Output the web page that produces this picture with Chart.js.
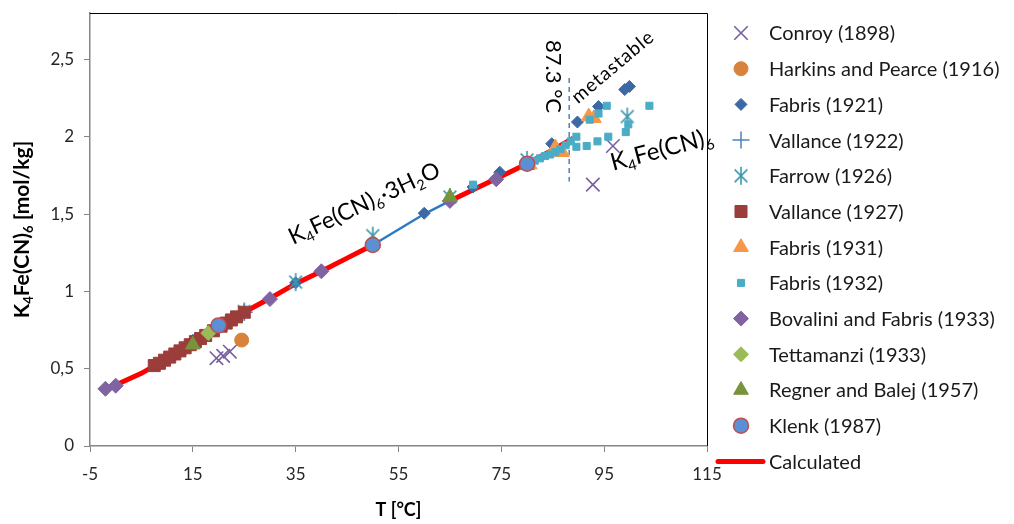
<!DOCTYPE html>
<html><head><meta charset="utf-8">
<script src="https://cdn.jsdelivr.net/npm/chart.js@4.4.0/dist/chart.umd.min.js"></script>
<style>html,body{margin:0;padding:0;background:#fff;}canvas{display:block;}</style>
</head><body>
<canvas id="c" width="1014" height="524"></canvas>
<script>
const FONT = 'Lato, "Open Sans", sans-serif';

// ---------- data ----------
const xTicks = [-5, 15, 35, 55, 75, 95, 115];
const yTicks = [0, 0.5, 1, 1.5, 2, 2.5];

const conroyT = [19.6, 20.9, 22.2, 92.8, 96.7];
const conroyM = [0.568, 0.583, 0.61, 1.69, 1.94];
const harkinsT = [24.5];
const harkinsM = [0.685];
const fabris1921T = [25, 35, 60, 69.5, 74.7, 84.8, 89.8, 93.9, 99, 99.9];
const fabris1921M = [0.86, 1.055, 1.505, 1.675, 1.77, 1.955, 2.095, 2.195, 2.305, 2.325];
const vallance1922T = [15, 20, 25];
const vallance1922M = [0.67, 0.77, 0.865];
const farrowT = [25, 35, 50, 65, 80, 99.5];
const farrowM = [0.87, 1.06, 1.36, 1.61, 1.85, 2.13];
const vallance1927T = [7.5, 8.5, 9.5, 10.5, 11.5, 12.5, 13.5, 14.5, 15.5, 16.5, 17.5, 19, 20.5, 21.5, 22.5, 23.5, 25];
const vallance1927M = [0.52, 0.535, 0.555, 0.575, 0.595, 0.615, 0.635, 0.655, 0.675, 0.695, 0.715, 0.745, 0.775, 0.795, 0.815, 0.835, 0.865];
const fabris1931T = [80.5, 85.5, 86.8, 92, 93];
const fabris1931M = [1.82, 1.93, 1.9, 2.13, 2.12];
const fabris1932T = [65, 69.5, 79.5, 81.5, 82.5, 83.5, 84.5, 85.5, 86.5, 87.5, 88.5, 89.6, 89.6, 91.6, 93.7, 95.8, 99.2, 99.7, 92.2, 93.9, 95.5, 103.8];
const fabris1932M = [1.60, 1.69, 1.82, 1.845, 1.86, 1.875, 1.885, 1.90, 1.92, 1.945, 1.97, 2.0, 1.935, 1.94, 1.97, 2.0, 2.03, 2.08, 2.11, 2.15, 2.2, 2.2];
const bovaliniT = [-2, 0, 30, 40, 65, 74];
const bovaliniM = [0.37, 0.39, 0.95, 1.13, 1.585, 1.725];
const tettamanziT = [18];
const tettamanziM = [0.73];
const regnerT = [15, 50, 65, 80];
const regnerM = [0.655, 1.31, 1.61, 1.815];
const klenkT = [20, 50, 80];
const klenkM = [0.78, 1.30, 1.825];
const calcT = [-2, 0, 5, 10, 15, 20, 25, 30, 35, 40, 45, 50, null, 65, 70, 75, 80, 85, 89];
const calcM = [0.37, 0.395, 0.47, 0.565, 0.665, 0.77, 0.865, 0.955, 1.05, 1.13, 1.215, 1.30, null, 1.585, 1.665, 1.745, 1.825, 1.915, 1.99];
const hydrateSegT = [50, 60, 65];
const hydrateSegM = [1.30, 1.50, 1.585];
const transitionT = [88.2, 88.2];
const transitionM = [2.38, 1.71];

function pts(T, M) { return T.map((t, i) => (t === null ? {x: null, y: null} : {x: t, y: M[i]})); }

// asterisk marker (Excel style: X with vertical bar)
function makeAsterisk(color, r, lw) {
  const c = document.createElement('canvas');
  const s = Math.ceil(2 * r + lw + 2);
  c.width = s; c.height = s;
  const g = c.getContext('2d');
  const m = s / 2, d = r * Math.SQRT1_2;
  g.strokeStyle = color; g.lineWidth = lw; g.lineCap = 'butt';
  g.beginPath();
  g.moveTo(m, m - r); g.lineTo(m, m + r);
  g.moveTo(m - d, m - d); g.lineTo(m + d, m + d);
  g.moveTo(m - d, m + d); g.lineTo(m + d, m - d);
  g.stroke();
  return c;
}
const asterisk = makeAsterisk('#3E98AE', 9, 1.6);

function scatterSet(label, T, M, style, r, fill, stroke, bw, order) {
  return {
    label: label, legendText: label, data: pts(T, M), showLine: false,
    pointStyle: style, pointRadius: r, pointBackgroundColor: fill,
    pointBorderColor: stroke, pointBorderWidth: bw, order: order
  };
}

const datasets = [
  scatterSet('Conroy (1898)', conroyT, conroyM, 'crossRot', 9.5, '#7560A0', '#7560A0', 1.6, 12),
  scatterSet('Harkins and Pearce (1916)', harkinsT, harkinsM, 'circle', 7, '#D9823B', '#D9823B', 1, 11),
  scatterSet('Fabris (1921)', fabris1921T, fabris1921M, 'rectRot', 6, '#3C68A6', '#3C68A6', 1, 10),
  scatterSet('Vallance (1922)', vallance1922T, vallance1922M, 'cross', 8.5, '#4F81BD', '#4F81BD', 1.5, 9),
  scatterSet('Farrow (1926)', farrowT, farrowM, asterisk, 9, '#3E98AE', '#3E98AE', 1.5, 8),
  scatterSet('Vallance (1927)', vallance1927T, vallance1927M, 'rect', 8.5, '#9B3D3A', '#9B3D3A', 1, 7),
  scatterSet('Fabris (1931)', fabris1931T, fabris1931M, 'triangle', 8.5, '#F79646', '#F79646', 1, 6),
  scatterSet('Fabris (1932)', fabris1932T, fabris1932M, 'rect', 5, '#4BACC6', '#4BACC6', 1, 5),
  scatterSet('Bovalini and Fabris (1933)', bovaliniT, bovaliniM, 'rectRot', 7.5, '#8064A2', '#8064A2', 1, 4),
  scatterSet('Tettamanzi (1933)', tettamanziT, tettamanziM, 'rectRot', 7.5, '#9BBB59', '#9BBB59', 1, 3),
  scatterSet('Regner and Balej (1957)', regnerT, regnerM, 'triangle', 8.5, '#77933C', '#77933C', 1, 2),
  scatterSet('Klenk (1987)', klenkT, klenkM, 'circle', 7.5, '#5B8FD6', '#C0504D', 1.5, 1),
  {label: 'Calculated', legendText: 'Calculated', legendLine: true, data: pts(calcT, calcM), showLine: true,
   spanGaps: false, borderColor: '#FF0000', borderWidth: 5, pointRadius: 0, order: 100},
  {label: 'hydrate', data: pts(hydrateSegT, hydrateSegM), showLine: true, borderColor: '#2A7BC4',
   borderWidth: 2.5, pointRadius: 0, order: 99},
  {label: 'transition', data: pts(transitionT, transitionM), showLine: true, borderColor: '#4F81BD',
   borderWidth: 1.5, borderDash: [5, 4], pointRadius: 0, order: 98}
];

function drawRich(ctx, parts, x, y, angleDeg, size, color, align, weight) {
  ctx.save();
  ctx.translate(x, y);
  ctx.rotate(angleDeg * Math.PI / 180);
  ctx.fillStyle = color;
  ctx.textBaseline = 'alphabetic';
  ctx.textAlign = 'left';
  const w8 = weight || 'normal';
  const fs = p => (p.sub ? size * 0.62 : size);
  let w = 0;
  parts.forEach(p => { ctx.font = w8 + ' ' + fs(p) + 'px ' + FONT; w += ctx.measureText(p.t).width; });
  let cx = align === 'center' ? -w / 2 : 0;
  parts.forEach(p => {
    ctx.font = w8 + ' ' + fs(p) + 'px ' + FONT;
    ctx.fillText(p.t, cx, p.sub ? size * 0.2 : 0);
    cx += ctx.measureText(p.t).width;
  });
  ctx.restore();
}

function drawMarker(ctx, ds, x, y) {
  const r = ds.pointRadius, st = ds.pointStyle;
  ctx.save();
  ctx.fillStyle = ds.pointBackgroundColor;
  ctx.strokeStyle = ds.pointBorderColor;
  ctx.lineWidth = ds.pointBorderWidth;
  if (st instanceof HTMLCanvasElement) {
    ctx.drawImage(st, x - st.width / 2, y - st.height / 2);
    ctx.restore(); return;
  }
  ctx.beginPath();
  if (st === 'circle') {
    ctx.arc(x, y, r, 0, Math.PI * 2);
  } else if (st === 'rect') {
    const s = Math.SQRT1_2 * r; ctx.rect(x - s, y - s, 2 * s, 2 * s);
  } else if (st === 'rectRot') {
    ctx.moveTo(x, y - r); ctx.lineTo(x + r, y); ctx.lineTo(x, y + r); ctx.lineTo(x - r, y); ctx.closePath();
  } else if (st === 'triangle') {
    let a = 0;
    ctx.moveTo(x + Math.sin(a) * r, y - Math.cos(a) * r);
    a += 2 * Math.PI / 3; ctx.lineTo(x + Math.sin(a) * r, y - Math.cos(a) * r);
    a += 2 * Math.PI / 3; ctx.lineTo(x + Math.sin(a) * r, y - Math.cos(a) * r);
    ctx.closePath();
  } else if (st === 'cross') {
    ctx.moveTo(x, y - r); ctx.lineTo(x, y + r); ctx.moveTo(x - r, y); ctx.lineTo(x + r, y);
    ctx.stroke(); ctx.restore(); return;
  } else if (st === 'crossRot') {
    const d = r * Math.SQRT1_2;
    ctx.moveTo(x - d, y - d); ctx.lineTo(x + d, y + d); ctx.moveTo(x - d, y + d); ctx.lineTo(x + d, y - d);
    ctx.stroke(); ctx.restore(); return;
  }
  ctx.fill(); ctx.stroke();
  ctx.restore();
}

const decor = {
  id: 'decor',
  afterDraw(chart) {
    const ctx = chart.ctx, a = chart.chartArea;
    const xs = chart.scales.x, ys = chart.scales.y;
    // top and right frame
    ctx.save();
    ctx.strokeStyle = '#000'; ctx.lineWidth = 1;
    ctx.beginPath();
    ctx.moveTo(a.left, a.top + 0.5); ctx.lineTo(a.right + 0.5, a.top + 0.5); ctx.lineTo(a.right + 0.5, a.bottom);
    ctx.stroke();
    ctx.restore();
    // y axis title with subscripts
    drawRich(ctx, [{t: 'K'}, {t: '4', sub: true}, {t: 'Fe(CN)'}, {t: '6', sub: true}, {t: ' [mol/kg]'}],
      29, (a.top + a.bottom) / 2, -90, 21, '#000', 'center', 'bold');
    // annotations
    drawRich(ctx, [{t: 'K'}, {t: '4', sub: true}, {t: 'Fe(CN)'}, {t: '6', sub: true}, {t: '·3H'}, {t: '2', sub: true}, {t: 'O'}],
      xs.getPixelForValue(34.5), ys.getPixelForValue(1.3), -25, 23, '#000', 'left');
    drawRich(ctx, [{t: 'K'}, {t: '4', sub: true}, {t: 'Fe(CN)'}, {t: '6', sub: true}],
      xs.getPixelForValue(96.7), ys.getPixelForValue(1.78), -15, 24, '#000', 'left');
    drawRich(ctx, [{t: '87.3 °C'}], xs.getPixelForValue(83.6), ys.getPixelForValue(2.625), 90, 22, '#000', 'left');
    ctx.save();
    ctx.letterSpacing = '1px';
    drawRich(ctx, [{t: 'metastable'}], xs.getPixelForValue(89.9), ys.getPixelForValue(2.21), -40, 19, '#000', 'left');
    ctx.restore();
    // legend
    const items = chart.data.datasets.filter(d => d.legendText);
    const y0 = 33, step = 35.7, mx = 741, tx = 769;
    ctx.save();
    ctx.font = '20px ' + FONT;
    ctx.textBaseline = 'middle';
    ctx.textAlign = 'left';
    items.forEach((d, i) => {
      const y = y0 + i * step;
      if (d.legendLine) {
        ctx.save();
        ctx.strokeStyle = d.borderColor; ctx.lineWidth = d.borderWidth; ctx.lineCap = 'round';
        ctx.beginPath(); ctx.moveTo(718, y); ctx.lineTo(763, y); ctx.stroke();
        ctx.restore();
      } else {
        drawMarker(ctx, d, mx, y);
      }
      ctx.fillStyle = '#1a1a1a';
      ctx.fillText(d.legendText, tx, y + 1);
    });
    ctx.restore();
  }
};

const tickFont = {family: FONT, size: 17};
new Chart(document.getElementById('c'), {
  type: 'scatter',
  data: {datasets: datasets},
  options: {
    responsive: false, animation: false, events: [],
    layout: {padding: {top: 13, right: 307, bottom: 0, left: 0}},
    plugins: {legend: {display: false}, tooltip: {enabled: false}},
    scales: {
      x: {
        type: 'linear', min: -5, max: 115,
        afterBuildTicks: s => { s.ticks = xTicks.map(v => ({value: v})); },
        afterFit: s => { s.height = 78; s.paddingLeft = 0; s.paddingRight = 0; },
        grid: {display: true, drawOnChartArea: false, drawTicks: true, tickLength: 6, color: '#868686', lineWidth: 1},
        border: {display: true, color: '#868686', width: 1.5},
        ticks: {font: tickFont, color: '#262626', padding: 12, maxRotation: 0},
        title: {display: true, text: 'T [°C]', font: {family: FONT, size: 18, weight: 'bold'}, color: '#000', padding: {top: 4, bottom: 3}}
      },
      y: {
        type: 'linear', min: 0, max: 2.8,
        afterBuildTicks: s => { s.ticks = yTicks.map(v => ({value: v})); },
        afterFit: s => { s.width = 90; s.paddingTop = 0; s.paddingBottom = 0; },
        grid: {display: true, drawOnChartArea: false, drawTicks: true, tickLength: 6, color: '#868686', lineWidth: 1},
        border: {display: true, color: '#868686', width: 1.5},
        ticks: {font: tickFont, color: '#262626', padding: 10, callback: v => String(v).replace('.', ',')}
      }
    }
  },
  plugins: [decor]
});
</script>
</body></html>
